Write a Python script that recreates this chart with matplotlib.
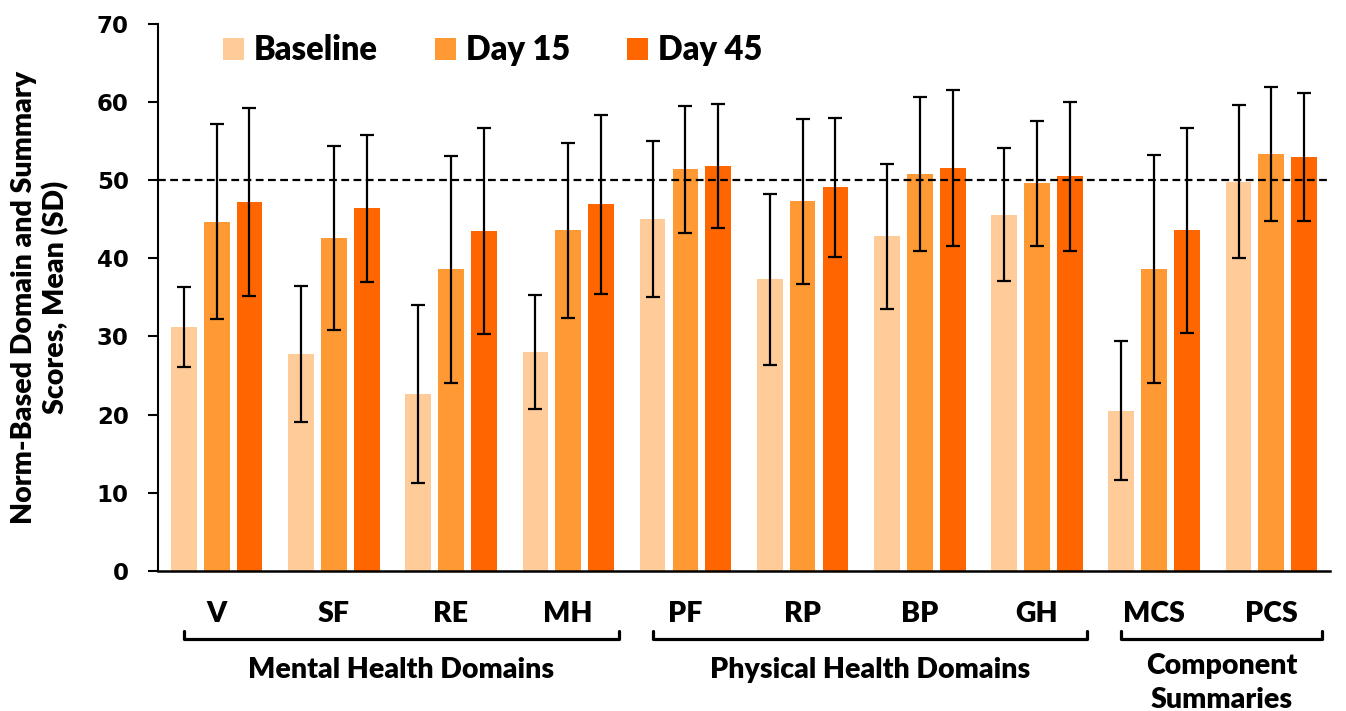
import matplotlib.pyplot as plt
import matplotlib.transforms as mtransforms
import numpy as np

plt.rcParams['font.family'] = ['Lato', 'DejaVu Sans']
plt.rcParams['font.weight'] = 'heavy'

# SF-36 domains and component summaries
categories = ['V', 'SF', 'RE', 'MH', 'PF', 'RP', 'BP', 'GH', 'MCS', 'PCS']
series = ['Baseline', 'Day 15', 'Day 45']

baseline = [31.2, 27.8, 22.6, 28.0, 45.0, 37.3, 42.8, 45.6, 20.5, 49.8]
day15 = [44.7, 42.6, 38.6, 43.6, 51.4, 47.3, 50.8, 49.6, 38.6, 53.4]
day45 = [47.2, 46.4, 43.5, 46.9, 51.8, 49.1, 51.6, 50.5, 43.6, 53.0]

baseline_sd = [5.1, 8.7, 11.4, 7.3, 10.0, 11.0, 9.3, 8.5, 8.9, 9.8]
day15_sd = [12.5, 11.8, 14.5, 11.2, 8.1, 10.6, 9.8, 8.0, 14.6, 8.6]
day45_sd = [12.0, 9.4, 13.2, 11.5, 7.9, 8.9, 10.0, 9.5, 13.1, 8.2]

groups = [('Mental Health Domains', 0, 3),
          ('Physical Health Domains', 4, 7),
          ('Component\nSummaries', 8, 9)]

norm_mean = 50

colors = ['#FFCC99', '#FF9933', '#FF6600']

fig = plt.figure(figsize=(13.46, 7.11), dpi=100)
ax = fig.add_axes([0.1174, 0.1973, 0.8707, 0.7689])

x = np.arange(len(categories))
offsets = [-0.28, 0.0, 0.28]
means = [baseline, day15, day45]
sds = [baseline_sd, day15_sd, day45_sd]

for i in range(3):
    ax.bar(x + offsets[i], means[i], width=0.22, color=colors[i],
           label=series[i], zorder=2)
    ax.errorbar(x + offsets[i], means[i], yerr=sds[i], fmt='none',
                ecolor='black', elinewidth=1.6, capsize=5, capthick=1.6,
                zorder=4)

ax.axhline(norm_mean, color='black', linewidth=1.6, dashes=(3.5, 2),
           zorder=3)

ax.set_xlim(-0.5, len(categories) - 0.5)
ax.set_ylim(0, 70)
ax.set_yticks(range(0, 71, 10))
for lab in ax.get_yticklabels():
    lab.set_fontfamily('DejaVu Sans')
    lab.set_fontweight('bold')
    lab.set_fontsize(16.5)
ax.tick_params(axis='y', direction='out', length=7, width=1.5, pad=14)
ax.set_xticks([])

for s in ['top', 'right']:
    ax.spines[s].set_visible(False)
ax.spines['left'].set_linewidth(1.5)
ax.spines['bottom'].set_linewidth(1.8)

ax.set_ylabel('Norm-Based Domain and Summary\nScores, Mean (SD)',
              fontsize=20.5, fontweight='heavy', labelpad=20,
              linespacing=1.2)

# category labels and group brackets under the axis
trans = mtransforms.blended_transform_factory(ax.transData, ax.transAxes)
for xi, cat in zip(x, categories):
    ax.text(xi, -0.079, cat, transform=trans, ha='center', va='center',
            fontsize=20.5, fontweight='heavy')

for name, first, last in groups:
    x0 = first - 0.28
    x1 = last + 0.43
    ax.plot([x0, x0, x1, x1], [-0.111, -0.124, -0.124, -0.111],
            transform=trans, color='black', linewidth=2.3, clip_on=False,
            solid_joinstyle='round', solid_capstyle='round')
    ly = -0.182 if '\n' not in name else -0.205
    ax.text((x0 + x1) / 2, ly, name, transform=trans, ha='center',
            va='center', fontsize=20.5, fontweight='heavy', linespacing=1.4)

leg = ax.legend(loc='upper left', bbox_to_anchor=(0.03, 1.035), ncol=3,
                frameon=False, fontsize=23.5, handlelength=0.65,
                handleheight=0.65, handletextpad=0.3, columnspacing=1.75)
for t in leg.get_texts():
    t.set_fontweight('heavy')

fig.savefig('out.png', dpi=100)
